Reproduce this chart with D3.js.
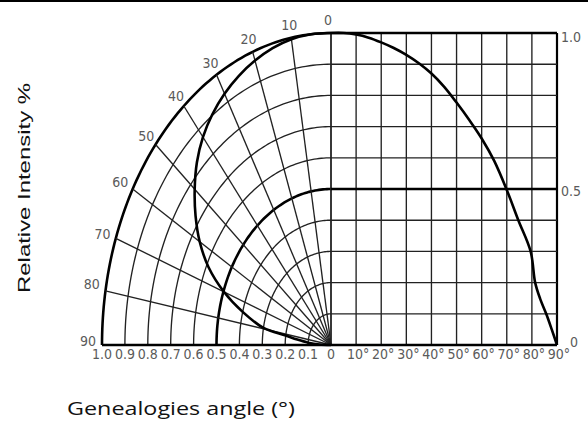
<!DOCTYPE html>
<html><head><meta charset="utf-8">
<script src="https://cdn.jsdelivr.net/npm/d3@7"></script>
<style>body{margin:0;background:#fff}svg{display:block}</style>
</head><body>
<svg id="c" width="588" height="428"></svg>
<script>
// ---- data ----
const angles      = [0, 5, 10, 15, 20, 25, 30, 35, 40, 45, 50, 55, 60, 65, 70, 74.6, 79.5, 81.3, 83.3, 85.7, 87.9, 90];
const intensities = [1, 1, 0.995, 0.985, 0.97, 0.952, 0.93, 0.903, 0.87, 0.828, 0.777, 0.722, 0.662, 0.59, 0.497, 0.4, 0.3, 0.2, 0.148, 0.1, 0.05, 0];
const polarAngleTicks = [0, 10, 20, 30, 40, 50, 60, 70, 80, 90];
const radiusTicks = [1.0, 0.9, 0.8, 0.7, 0.6, 0.5, 0.4, 0.3, 0.2, 0.1];
const radiusLabels = ["1.0","0.9","0.8","0.7","0.6","0.5","0.4","0.3","0.2","0.1","0"];
const angleAxisTicks = [10, 20, 30, 40, 50, 60, 70, 80, 90];
const angleAxisLabels = ["10°","20°","30°","40°","50°","60°","70°","80°","90°"];
const intensityTicks = [0.1,0.2,0.3,0.4,0.5,0.6,0.7,0.8,0.9,1.0];
const rightLabels = [{v:1.0,t:"1.0"},{v:0.5,t:"0.5"},{v:0,t:"0"}];
const xTitle = "Genealogies angle (°)";
const yTitle = "Relative Intensity %";

const svg = d3.select("#c");
const cx = 331, cy = 345;
const rx = d3.scaleLinear().domain([0,1]).range([0,229]);
const ry = d3.scaleLinear().domain([0,1]).range([0,312]);
const xA = d3.scaleLinear().domain([0,90]).range([cx, 557]);
const yI = d3.scaleLinear().domain([0,1]).range([cy, cy-312]);
function polar(r, deg){ const a = deg*Math.PI/180; return [cx - rx(r)*Math.sin(a), cy - ry(r)*Math.cos(a)]; }

const gridCol = "#222", thin = 1.35, thick = 2.6;
const labCol = "#5a5a5a";
const tickFont = "'Liberation Sans Narrow','DejaVu Sans Condensed',sans-serif";

// top border line
svg.append("rect").attr("x",0).attr("y",0).attr("width",588).attr("height",2).attr("fill","#000");

const g = svg.append("g");
const arcLine = d3.line();
const degs = d3.range(0, 90.01, 1);

// polar arcs
radiusTicks.forEach(r => {
  const heavy = (r === 1.0 || r === 0.5);
  g.append("path").attr("d", arcLine(degs.map(d => polar(r, d))))
    .attr("fill","none").attr("stroke", heavy ? "#000" : gridCol)
    .attr("stroke-width", heavy ? thick : thin);
});
// radial lines
polarAngleTicks.forEach(d => {
  const p0 = polar(0, d), p1 = polar(1, d);
  g.append("line").attr("x1",p0[0]).attr("y1",p0[1]).attr("x2",p1[0]).attr("y2",p1[1])
    .attr("stroke",gridCol).attr("stroke-width",thin);
});
// right grid verticals
[0].concat(angleAxisTicks).forEach(a => {
  g.append("line").attr("x1",xA(a)).attr("x2",xA(a)).attr("y1",yI(0)).attr("y2",yI(1))
    .attr("stroke", a===90 ? "#000" : gridCol).attr("stroke-width", a===90 ? 2.2 : thin);
});
// right grid horizontals
intensityTicks.forEach(v => {
  const heavy = (v === 1.0 || v === 0.5);
  g.append("line").attr("x1",xA(0)).attr("x2",xA(90)).attr("y1",yI(v)).attr("y2",yI(v))
    .attr("stroke", heavy ? "#000" : gridCol).attr("stroke-width", heavy ? thick : thin);
});
// baseline
g.append("line").attr("x1",polar(1,90)[0]).attr("x2",xA(90)).attr("y1",cy).attr("y2",cy)
  .attr("stroke","#000").attr("stroke-width",2.4);

const data = angles.map((a,i)=>({a, v:intensities[i]}));
// cartesian curve
g.append("path").datum(data)
  .attr("d", d3.line().x(d=>xA(d.a)).y(d=>yI(d.v)).curve(d3.curveCatmullRom.alpha(0.5)))
  .attr("fill","none").attr("stroke","#000").attr("stroke-width",thick);
// polar curve
g.append("path").datum(data)
  .attr("d", d3.line().x(d=>polar(d.v,d.a)[0]).y(d=>polar(d.v,d.a)[1]).curve(d3.curveCatmullRom.alpha(0.5)))
  .attr("fill","none").attr("stroke","#000").attr("stroke-width",thick);

// polar angle labels
polarAngleTicks.forEach(d => {
  const a = d*Math.PI/180;
  const x = cx - (229+12)*Math.sin(a) - (d>=60?2:0) - (d===0?3:0);
  const y = cy - (312+13)*Math.cos(a) - (d>=80?4:0);
  svg.append("text").attr("x",x).attr("y",y).attr("dy","0.35em").attr("text-anchor","middle")
    .attr("font-family",tickFont).attr("font-size",14).attr("fill",labCol).text(d);
});
// bottom radius labels
radiusLabels.forEach((t,i) => {
  const r = i < radiusTicks.length ? radiusTicks[i] : 0;
  svg.append("text").attr("x", cx - rx(r)).attr("y", cy+14).attr("text-anchor","middle")
    .attr("font-family",tickFont).attr("font-size",14).attr("fill",labCol).text(t);
});
// bottom angle labels
angleAxisTicks.forEach((a,i) => {
  svg.append("text").attr("x", xA(a)+2).attr("y", cy+14).attr("text-anchor","middle")
    .attr("font-family",tickFont).attr("font-size",14).attr("fill",labCol).text(angleAxisLabels[i]);
});
// right labels
rightLabels.forEach(o => {
  svg.append("text").attr("x", o.v===0 ? 570 : 561).attr("y", yI(o.v) + (o.v===1?4:(o.v===0?-3:2))).attr("dy","0.35em")
    .attr("font-family",tickFont).attr("font-size",14).attr("fill",labCol).text(o.t);
});

// axis titles
svg.append("text").attr("transform","translate(30,188) rotate(-90)").attr("text-anchor","middle")
  .attr("font-family","'Liberation Sans',Arial,sans-serif").attr("font-size",17).attr("fill","#111")
  .attr("textLength",210).attr("lengthAdjust","spacingAndGlyphs").text(yTitle);
svg.append("text").attr("x",67).attr("y",415)
  .attr("font-family","'Open Sans',sans-serif").attr("font-size",18).attr("fill","#111")
  .attr("textLength",228).attr("lengthAdjust","spacingAndGlyphs").text(xTitle);
</script>
</body></html>
